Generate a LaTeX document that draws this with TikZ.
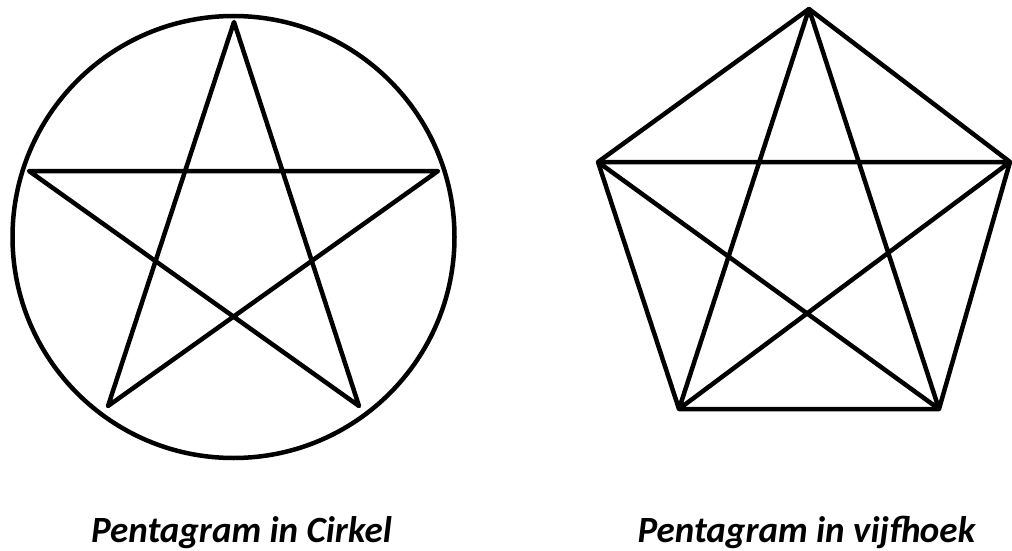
\documentclass[tikz,border=0pt]{standalone}
\usepackage{fontspec}
\setmainfont{Carlito}
\begin{document}
\begin{tikzpicture}[x=1pt,y=-1pt,
  shape line/.style={line width=4.5pt, line join=round, line cap=round},
  caption/.style={anchor=base, inner sep=0pt, font=\fontsize{37}{44}\selectfont\bfseries\itshape}]
\useasboundingbox (0,0) rectangle (1012,551);
% left: pentagram in circle
\draw[shape line] (233.5,237) circle[radius=221];
\coordinate (a1) at (234,22);
\coordinate (a2) at (29,171);
\coordinate (a3) at (438,171);
\coordinate (a4) at (108,406);
\coordinate (a5) at (359,406);
\draw[shape line] (a1) -- (a4) -- (a3) -- (a2) -- (a5) -- cycle;
% right: pentagram in pentagon
\coordinate (b1) at (809,9);
\coordinate (b2) at (598,162);
\coordinate (b3) at (1010,162);
\coordinate (b4) at (679,409);
\coordinate (b5) at (939,409);
\draw[shape line] (b1) -- (b3) -- (b5) -- (b4) -- (b2) -- cycle;
\draw[shape line] (b1) -- (b4) -- (b3) -- (b2) -- (b5) -- cycle;
% captions
\node[caption] (c1) at (241.5,542) {Pentagram in Cirkel};
\node[caption] (c2) at (806.5,542) {Pentagram in vijfhoek};
\end{tikzpicture}
\end{document}
